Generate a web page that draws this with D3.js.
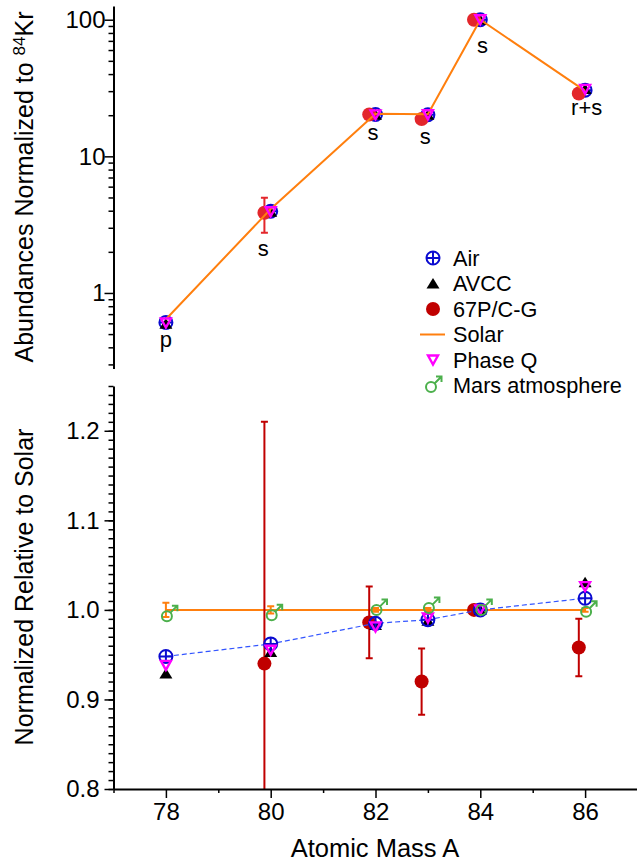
<!DOCTYPE html>
<html>
<head>
<meta charset="utf-8">
<script src="https://cdn.jsdelivr.net/npm/d3@7"></script>
<style>
  body { margin: 0; background: #fff; }
  svg { display: block; font-family: "Liberation Sans", Arial, Helvetica, sans-serif; }
</style>
</head>
<body>
<div id="chart"></div>
<script>
// Kr isotopes
const masses = [78, 80, 82, 83, 84, 86];
const airAbund = [0.6087, 3.960, 20.217, 20.136, 100, 30.524];
const solarAbund = [0.642, 4.116, 20.52, 20.36, 100, 30.13];

// ratios relative to solar
const airRatio = [0.948, 0.962, 0.985, 0.989, 1.0, 1.013];
const avccRatio = [0.929, 0.953, 0.983, 0.988, 1.0, 1.031];
const phaseQRatio = [0.938, 0.955, 0.981, 0.991, 1.0, 1.026];
const marsRatio = [0.993, 0.994, 1.000, 1.002, 1.000, 0.998];
const solarRatio = [1, 1, 1, 1, 1, 1];
const solarErr = [0.008, 0.004, 0.002, 0.002, 0, 0.002];

// 67P/C-G (no 78Kr)
const cometMasses = [80, 82, 83, 84, 86];
const cometRatio = [0.94, 0.986, 0.92, 1.0, 0.958];
const cometErr = [0.27, 0.04, 0.037, 0.003, 0.032];
const cometShift = -0.12;

// nucleosynthesis labels
const procText = ['p', 's', 's', 's', 's', 'r+s'];
const procMass = [78, 79.86, 81.95, 82.95, 84.04, 86.03];
const procAt = [0.40, 1.87, 13.1, 12.4, 57, 20.0];

const legendNames = ['Air', 'AVCC', '67P/C-G', 'Solar', 'Phase Q', 'Mars atmosphere'];

const blue = '#0a0ad0', red = '#c00000', redTop = '#e3262b', orange = '#ff7f0e',
  magenta = '#ff00ff', green = '#4cb04c';

const width = 637, height = 863;
const x = d3.scaleLinear().domain([77, 87]).range([113.5, 637.5]);
const yTop = d3.scaleLog().domain([0.28, 126]).range([368.5, 6]);
const yBot = d3.scaleLinear().domain([0.8, 1.25]).range([789, 386]);

const svg = d3.select('#chart').append('svg')
  .attr('width', width).attr('height', height);

const sol = masses.map((m, i) => ({ m, v: solarAbund[i] }));
const solarOf = (m) => solarAbund[masses.indexOf(m)];

// marker helpers
function airMark(g, cx, cy, r) {
  g.append('circle').attr('cx', cx).attr('cy', cy).attr('r', r)
    .attr('fill', 'none').attr('stroke', blue).attr('stroke-width', 2);
  g.append('path').attr('d', `M${cx - r},${cy}H${cx + r}M${cx},${cy - r}V${cy + r}`)
    .attr('stroke', blue).attr('stroke-width', 2);
}
function upTri(g, cx, cy) {
  g.append('path').attr('d', `M${cx - 6.5},${cy + 5}L${cx + 6.5},${cy + 5}L${cx},${cy - 5.5}Z`)
    .attr('fill', '#000');
}
function downTri(g, cx, cy) {
  g.append('path').attr('d', `M${cx - 5},${cy - 4.5}L${cx + 5},${cy - 4.5}L${cx},${cy + 4.5}Z`)
    .attr('fill', 'none').attr('stroke', magenta).attr('stroke-width', 2.4)
    .attr('stroke-linejoin', 'miter');
}
function marsMark(g, cx, cy) {
  g.append('circle').attr('cx', cx).attr('cy', cy).attr('r', 5)
    .attr('fill', 'none').attr('stroke', green).attr('stroke-width', 2);
  g.append('path')
    .attr('d', `M${cx + 3.5},${cy - 3.5}L${cx + 10.5},${cy - 10.5}M${cx + 5},${cy - 10.5}H${cx + 10.5}V${cy - 5}`)
    .attr('fill', 'none').attr('stroke', green).attr('stroke-width', 2);
}
function errBar(g, cx, y0, y1, color) {
  g.append('path').attr('d', `M${cx},${y0}V${y1}M${cx - 3.5},${y0}H${cx + 3.5}M${cx - 3.5},${y1}H${cx + 3.5}`)
    .attr('stroke', color).attr('stroke-width', 2).attr('fill', 'none');
}

// ---------- top panel ----------
const topPanel = svg.append('g');

const topAir = topPanel.append('g');
masses.forEach((m, i) => airMark(topAir, x(m), yTop(airAbund[i]), 6.5));
const topAvcc = topPanel.append('g');
masses.forEach((m, i) => upTri(topAvcc, x(m), yTop(avccRatio[i] * solarAbund[i])));
const topComet = topPanel.append('g');
cometMasses.forEach((m, i) => {
  const v = cometRatio[i] * solarOf(m), e = cometErr[i] * solarOf(m);
  errBar(topComet, x(m + cometShift), yTop(v + e), yTop(v - e), redTop);
  topComet.append('circle').attr('cx', x(m + cometShift)).attr('cy', yTop(v)).attr('r', 7)
    .attr('fill', redTop);
});
topPanel.append('path').datum(sol)
  .attr('d', d3.line().x(d => x(d.m)).y(d => yTop(d.v)))
  .attr('fill', 'none').attr('stroke', orange).attr('stroke-width', 2);
const topQ = topPanel.append('g');
masses.forEach((m, i) => downTri(topQ, x(m), yTop(phaseQRatio[i] * solarAbund[i])));

topPanel.selectAll('text.proc').data(procText).join('text')
  .attr('class', 'proc')
  .attr('x', (d, i) => x(procMass[i]))
  .attr('y', (d, i) => yTop(procAt[i]))
  .attr('text-anchor', 'middle').attr('font-size', 22).text(d => d);

const topMinor = [];
[0.1, 1, 10, 100].forEach(dec => {
  for (let k = 2; k <= 9; k++) {
    const v = k * dec;
    if (v >= 0.28 && v <= 126) topMinor.push(v);
  }
});
topPanel.append('g').attr('transform', 'translate(113.5,0)')
  .call(d3.axisLeft(yTop).tickValues(topMinor).tickFormat('').tickSize(5).tickSizeOuter(0))
  .call(g => g.select('.domain').remove())
  .call(g => g.selectAll('line').attr('stroke-width', 1.5));
topPanel.append('g').attr('transform', 'translate(113.5,0)')
  .call(d3.axisLeft(yTop).tickValues([1, 10, 100]).tickFormat(d3.format('d'))
    .tickSize(9).tickSizeOuter(0).tickPadding(-1))
  .call(g => g.select('.domain').attr('stroke-width', 2))
  .call(g => g.selectAll('line').attr('stroke-width', 1.5))
  .call(g => g.selectAll('text').attr('font-size', 24).attr('fill', '#000')
    .style('font-family', '"Liberation Sans", Arial, sans-serif'));

const tt = svg.append('text')
  .attr('transform', 'translate(33,187) rotate(-90)')
  .attr('text-anchor', 'middle').attr('font-size', 25);
tt.append('tspan').text('Abundances Normalized to ');
tt.append('tspan').attr('font-size', 17).attr('baseline-shift', '8').text('84');
tt.append('tspan').text('Kr');

// legend
const leg = svg.append('g');
const legY = (i) => 258 + i * 25.5;
leg.selectAll('text').data(legendNames).join('text')
  .attr('x', 453).attr('y', (d, i) => legY(i) + 7.5)
  .attr('font-size', 21.7).text(d => d);
airMark(leg, 433, legY(0), 6.5);
upTri(leg, 433, legY(1));
leg.append('circle').attr('cx', 433).attr('cy', legY(2)).attr('r', 7).attr('fill', red);
leg.append('line').attr('x1', 420).attr('x2', 445).attr('y1', legY(3)).attr('y2', legY(3))
  .attr('stroke', orange).attr('stroke-width', 2);
downTri(leg, 433, legY(4));
marsMark(leg, 431, legY(5) + 1.5);

// ---------- bottom panel ----------
svg.append('clipPath').attr('id', 'clipBot')
  .append('rect').attr('x', 113.5).attr('y', 386).attr('width', 524).attr('height', 403);
const bot = svg.append('g').attr('clip-path', 'url(#clipBot)');

bot.append('path').datum(masses.map((m, i) => ({ m, v: solarRatio[i] })))
  .attr('d', d3.line().x(d => x(d.m)).y(d => yBot(d.v)))
  .attr('fill', 'none').attr('stroke', orange).attr('stroke-width', 2);
masses.forEach((m, i) => {
  if (solarErr[i] > 0) errBar(bot, x(m), yBot(solarRatio[i] + solarErr[i]), yBot(solarRatio[i] - solarErr[i]), orange);
});

cometMasses.forEach((m, i) => {
  const v = cometRatio[i], e = cometErr[i];
  errBar(bot, x(m + cometShift), yBot(v + e), yBot(v - e), red);
  bot.append('circle').attr('cx', x(m + cometShift)).attr('cy', yBot(v)).attr('r', 7)
    .attr('fill', red);
});

bot.append('path').datum(masses.map((m, i) => ({ m, v: airRatio[i] })))
  .attr('d', d3.line().x(d => x(d.m)).y(d => yBot(d.v)))
  .attr('fill', 'none').attr('stroke', '#3355ff').attr('stroke-width', 1.2)
  .attr('stroke-dasharray', '5,3');
masses.forEach((m, i) => upTri(bot, x(m), yBot(avccRatio[i])));
masses.forEach((m, i) => airMark(bot, x(m), yBot(airRatio[i]), 6.5));
masses.forEach((m, i) => downTri(bot, x(m), yBot(phaseQRatio[i])));
masses.forEach((m, i) => marsMark(bot, x(m) + 1, yBot(marsRatio[i])));

// bottom axes
svg.append('g').attr('transform', 'translate(113.5,0)')
  .call(d3.axisLeft(yBot).tickValues(d3.range(80, 126).map(d => d / 100)).tickFormat('')
    .tickSize(5).tickSizeOuter(0))
  .call(g => g.select('.domain').remove())
  .call(g => g.selectAll('line').attr('stroke-width', 1.5));
svg.append('g').attr('transform', 'translate(113.5,0)')
  .call(d3.axisLeft(yBot).tickValues([0.8, 0.9, 1.0, 1.1, 1.2]).tickFormat(d3.format('.1f'))
    .tickSize(9).tickSizeOuter(0).tickPadding(5))
  .call(g => g.select('.domain').attr('stroke-width', 2))
  .call(g => g.selectAll('line').attr('stroke-width', 1.5))
  .call(g => g.selectAll('text').attr('font-size', 24).attr('fill', '#000')
    .style('font-family', '"Liberation Sans", Arial, sans-serif'));

svg.append('g').attr('transform', 'translate(0,789)')
  .call(d3.axisBottom(x).tickValues([77, 79, 81, 83, 85, 87]).tickFormat('')
    .tickSize(4).tickSizeOuter(0))
  .call(g => g.select('.domain').remove())
  .call(g => g.selectAll('line').attr('stroke-width', 1.5));
svg.append('g').attr('transform', 'translate(0,789)')
  .call(d3.axisBottom(x).tickValues([78, 80, 82, 84, 86]).tickFormat(d3.format('d'))
    .tickSize(9).tickSizeOuter(0).tickPadding(5))
  .call(g => g.select('.domain').attr('stroke-width', 2))
  .call(g => g.selectAll('line').attr('stroke-width', 1.5))
  .call(g => g.selectAll('text').attr('font-size', 24).attr('fill', '#000')
    .style('font-family', '"Liberation Sans", Arial, sans-serif'));

svg.append('text').attr('transform', 'translate(33,587) rotate(-90)')
  .attr('text-anchor', 'middle').attr('font-size', 25).text('Normalized Relative to Solar');
svg.append('text').attr('x', 375).attr('y', 857)
  .attr('text-anchor', 'middle').attr('font-size', 25.5).text('Atomic Mass A');
</script>
</body>
</html>
